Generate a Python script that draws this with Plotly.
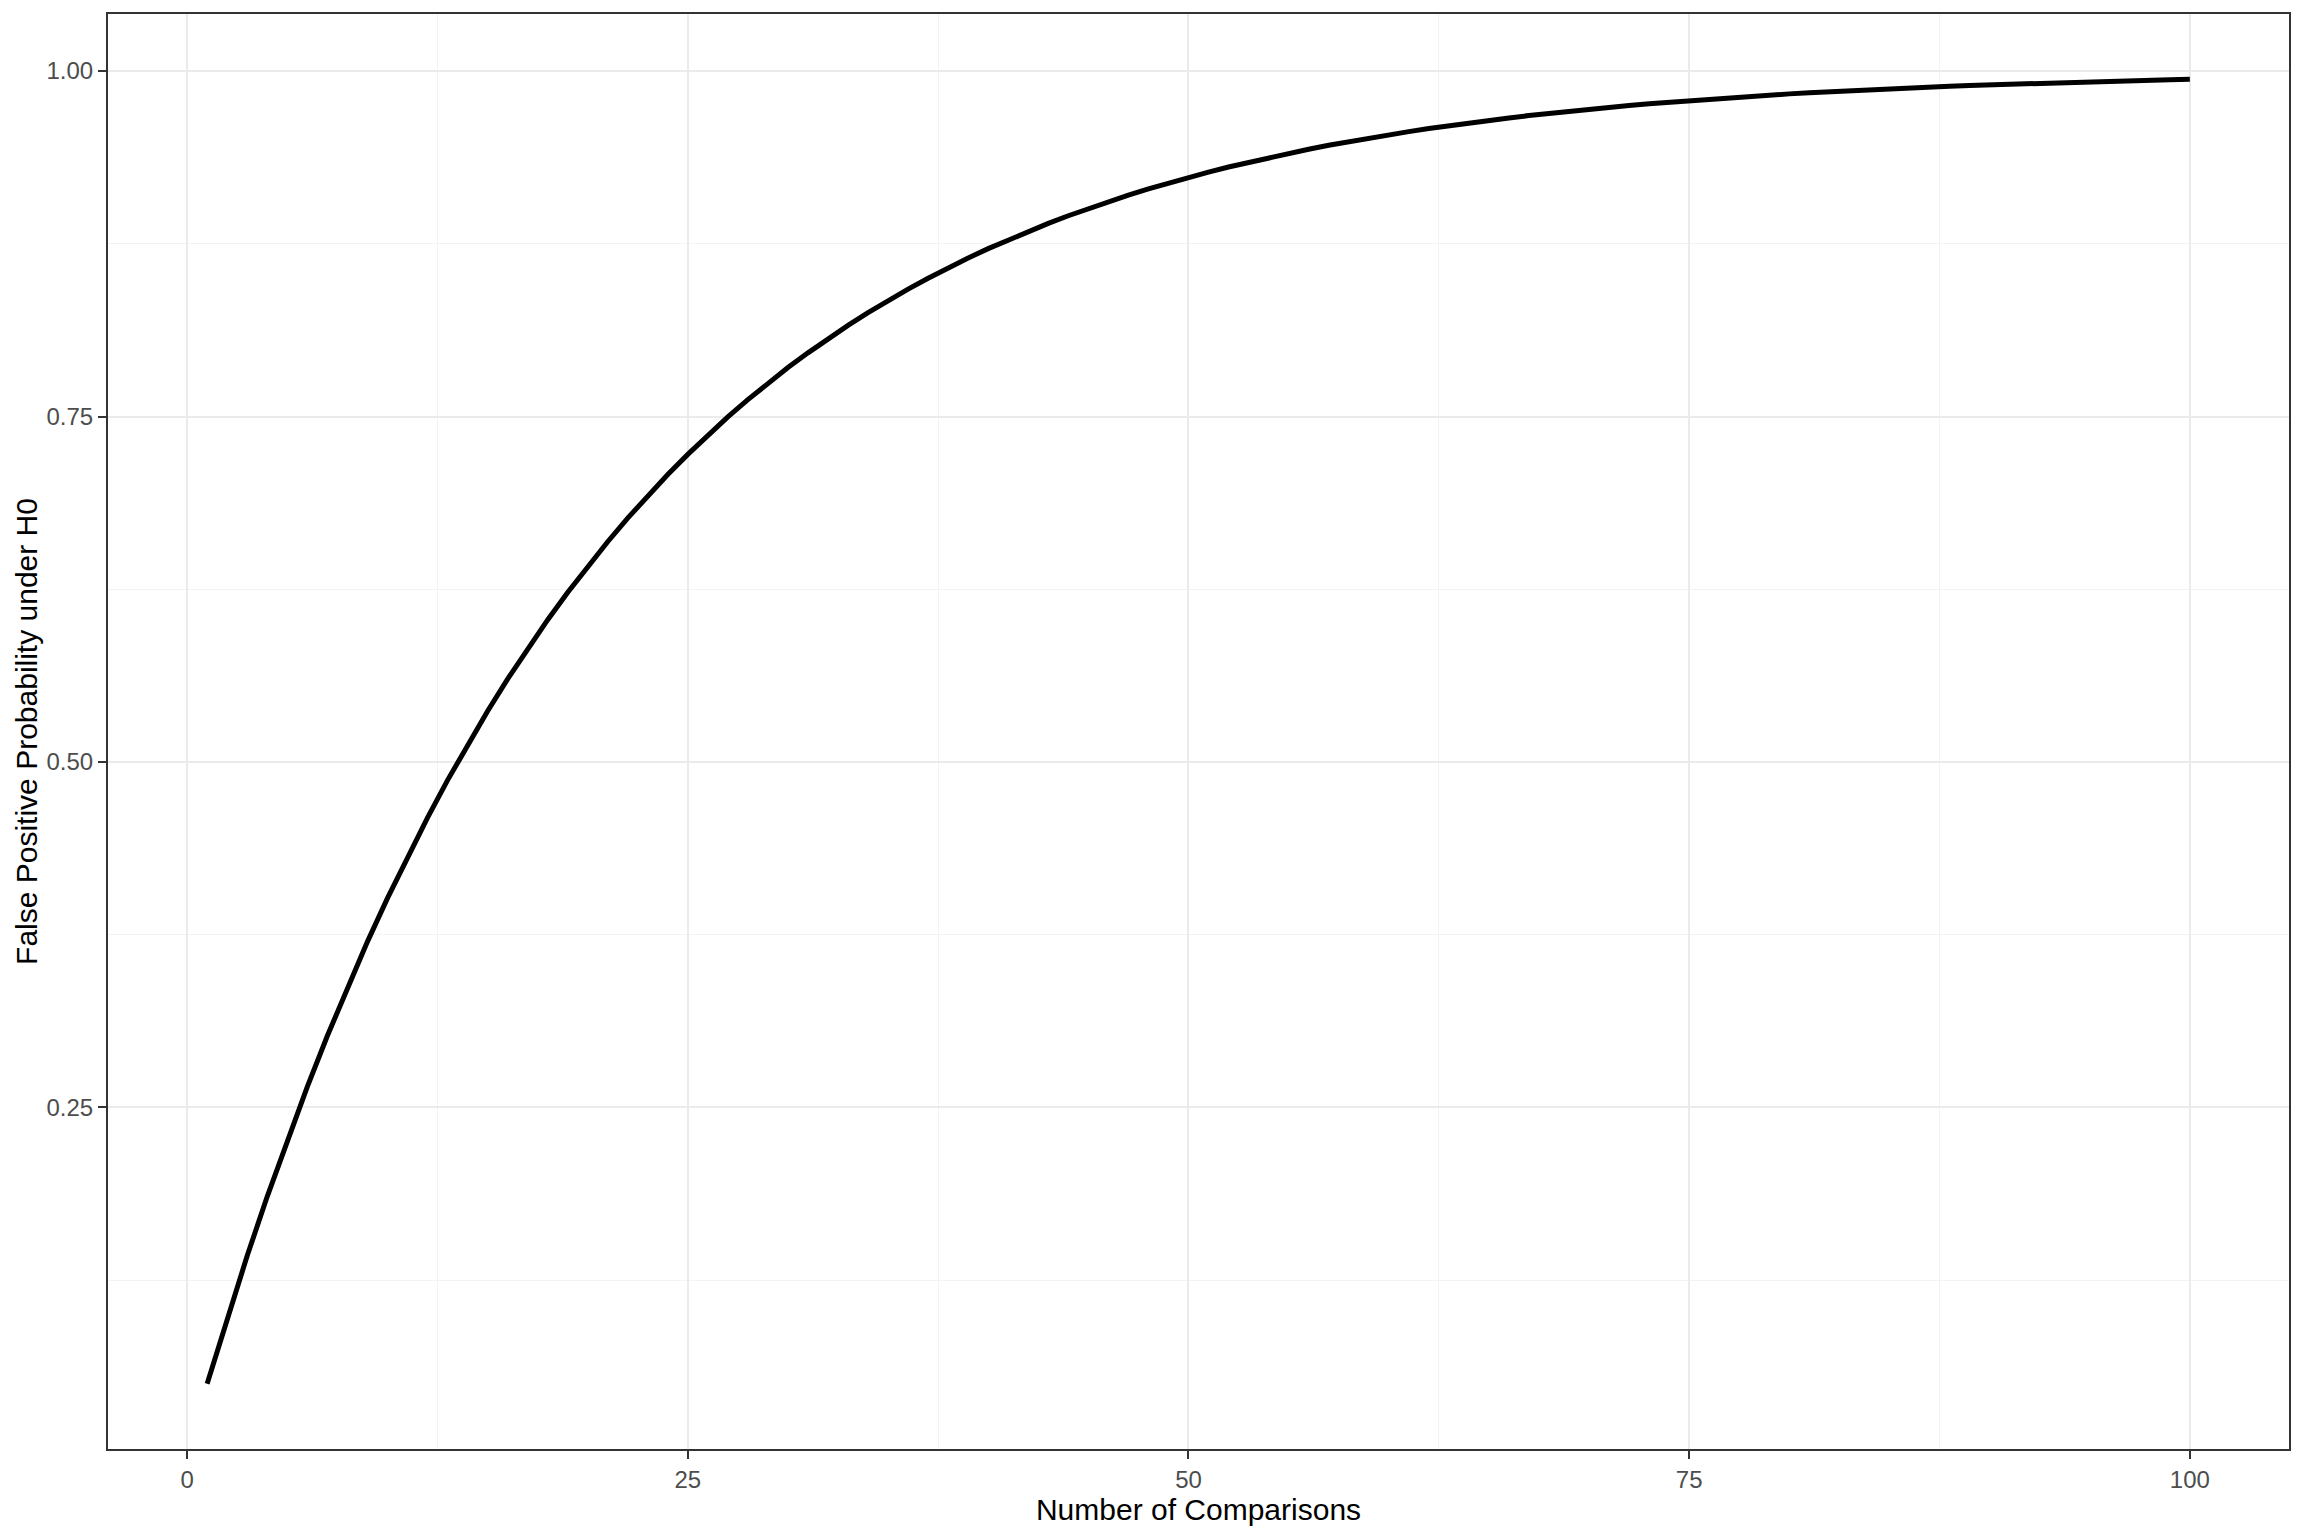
import plotly.graph_objects as go

n_comparisons = list(range(1, 101))
false_positive_prob = [
    0.0500, 0.0975, 0.1426, 0.1855, 0.2262, 0.2649, 0.3017, 0.3366, 0.3698, 0.4013,
    0.4312, 0.4596, 0.4867, 0.5123, 0.5367, 0.5599, 0.5819, 0.6028, 0.6226, 0.6415,
    0.6594, 0.6765, 0.6926, 0.7080, 0.7226, 0.7365, 0.7497, 0.7622, 0.7741, 0.7854,
    0.7961, 0.8063, 0.8160, 0.8252, 0.8339, 0.8422, 0.8501, 0.8576, 0.8647, 0.8715,
    0.8779, 0.8840, 0.8898, 0.8953, 0.9006, 0.9055, 0.9103, 0.9147, 0.9190, 0.9231,
    0.9269, 0.9306, 0.9340, 0.9373, 0.9405, 0.9434, 0.9463, 0.9490, 0.9515, 0.9539,
    0.9562, 0.9584, 0.9605, 0.9625, 0.9644, 0.9661, 0.9678, 0.9694, 0.9710, 0.9724,
    0.9738, 0.9751, 0.9764, 0.9775, 0.9787, 0.9797, 0.9807, 0.9817, 0.9826, 0.9835,
    0.9843, 0.9851, 0.9858, 0.9865, 0.9872, 0.9879, 0.9885, 0.9890, 0.9896, 0.9901,
    0.9906, 0.9911, 0.9915, 0.9919, 0.9923, 0.9927, 0.9931, 0.9934, 0.9938, 0.9941,
]
x_ticks = [0, 25, 50, 75, 100]
y_ticks = [0.25, 0.50, 0.75, 1.00]
y_tick_labels = ["0.25", "0.50", "0.75", "1.00"]

FONT = "Liberation Sans, Arial, sans-serif"

fig = go.Figure()
fig.add_trace(go.Scatter(
    x=n_comparisons, y=false_positive_prob, mode="lines",
    line=dict(color="black", width=5), showlegend=False, hoverinfo="x+y",
))

common_axis = dict(
    showline=True, linecolor="#333333", linewidth=2, mirror=True,
    ticks="outside", ticklen=8, tickwidth=2, tickcolor="#333333",
    tickfont=dict(family=FONT, size=24, color="#4D4D4D"),
    showgrid=True, gridcolor="#EBEBEB", gridwidth=2,
    zeroline=False, automargin=False,
    minor=dict(showgrid=True, gridcolor="#F3F3F3", gridwidth=1),
)

fig.update_xaxes(
    range=[-3.95, 104.95], tickvals=x_ticks, ticktext=[str(v) for v in x_ticks],
    title=dict(text="Number of Comparisons", font=dict(family=FONT, size=30, color="black"), standoff=0),
    **common_axis,
)
fig.update_yaxes(
    range=[0.0028, 1.0413], tickvals=y_ticks, ticktext=y_tick_labels,
    title=dict(text="False Positive Probability under H0", font=dict(family=FONT, size=30, color="black"), standoff=0),
    **common_axis,
)
fig.update_xaxes(minor=dict(tickvals=[12.5, 37.5, 62.5, 87.5], ticks=""))
fig.update_yaxes(minor=dict(tickvals=[0.125, 0.375, 0.625, 0.875], ticks=""))

fig.update_layout(
    width=2304, height=1536,
    margin=dict(l=108, r=15, t=14, b=87, pad=0),
    plot_bgcolor="white", paper_bgcolor="white",
    font=dict(family=FONT),
)

fig.write_html(
    "out.html",
    config={"displayModeBar": False},
    post_script="document.body.style.margin='0';document.body.style.overflow='hidden';",
)
